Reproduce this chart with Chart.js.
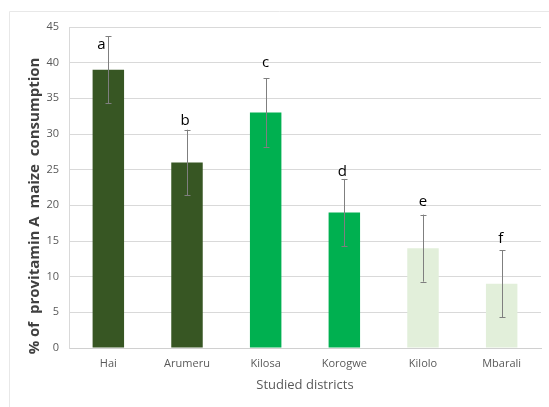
<!DOCTYPE html>
<html>
<head>
<meta charset="utf-8">
<script src="https://cdn.jsdelivr.net/npm/chart.js@4/dist/chart.umd.min.js"></script>
<style>
  html, body { margin: 0; padding: 0; background: #fff; }
  #wrap { width: 549px; height: 407px; position: relative; }
</style>
</head>
<body>
<div id="wrap"><canvas id="c" width="549" height="407"></canvas></div>
<script>
const categories = ["Hai", "Arumeru", "Kilosa", "Korogwe", "Kilolo", "Mbarali"];
const values = [39, 26, 33, 19, 14, 9];
const errors = [4.7, 4.6, 4.8, 4.7, 4.7, 4.7];
const letters = ["a", "b", "c", "d", "e", "f"];
const letterValues = [42.5, 31.9, 40.0, 24.7, 20.5, 15.3];
const letterOffsets = [-7, -2, 0, -2, 0, -1];
const barColors = ["#375623", "#375623", "#00b050", "#00b050", "#e2efda", "#e2efda"];
const yTicks = [0, 5, 10, 15, 20, 25, 30, 35, 40, 45];
const yTitle = "% of  provitamin A  maize  consumption";
const xTitle = "Studied districts";

const extras = {
  id: "extras",
  beforeDraw(chart) {
    const ctx = chart.ctx;
    ctx.save();
    ctx.strokeStyle = "#e8e8e8";
    ctx.lineWidth = 1;
    ctx.beginPath();
    ctx.moveTo(9.5, 407);
    ctx.lineTo(9.5, 11.5);
    ctx.lineTo(549, 11.5);
    ctx.stroke();
    ctx.restore();
  },
  afterDatasetsDraw(chart) {
    const ctx = chart.ctx;
    const xs = chart.scales.x, ys = chart.scales.y;
    ctx.save();
    ctx.strokeStyle = "#7f7f7f";
    ctx.lineWidth = 1;
    values.forEach((v, i) => {
      const x = Math.round(xs.getPixelForValue(i)) + 0.5;
      const yt = ys.getPixelForValue(v + errors[i]);
      const yb = ys.getPixelForValue(v - errors[i]);
      ctx.beginPath();
      ctx.moveTo(x, yt); ctx.lineTo(x, yb);
      ctx.moveTo(x - 3, Math.round(yt) + 0.5); ctx.lineTo(x + 3, Math.round(yt) + 0.5);
      ctx.moveTo(x - 3, Math.round(yb) + 0.5); ctx.lineTo(x + 3, Math.round(yb) + 0.5);
      ctx.stroke();
    });
    ctx.fillStyle = "#000";
    ctx.font = "15px 'Open Sans'";
    ctx.textAlign = "center";
    ctx.textBaseline = "middle";
    letters.forEach((l, i) => {
      ctx.fillText(l, xs.getPixelForValue(i) + letterOffsets[i], ys.getPixelForValue(letterValues[i]));
    });
    ctx.fillStyle = "#595959";
    ctx.font = "13px 'Open Sans'";
    ctx.fillText(xTitle, (chart.chartArea.left + chart.chartArea.right) / 2, 385);
    ctx.save();
    ctx.translate(35, 206);
    ctx.rotate(-Math.PI / 2);
    ctx.fillStyle = "#404040";
    ctx.font = "bold 15px 'Open Sans'";
    ctx.fillText(yTitle, 0, 0);
    ctx.restore();
    ctx.restore();
  }
};

new Chart(document.getElementById("c"), {
  type: "bar",
  data: {
    labels: categories,
    datasets: [{
      data: values,
      backgroundColor: barColors,
      borderWidth: 0,
      barPercentage: 0.4,
      categoryPercentage: 1.0
    }]
  },
  options: {
    responsive: false,
    animation: false,
    devicePixelRatio: 1,
    layout: { padding: { left: 0, right: 8, top: 27, bottom: 0 } },
    plugins: { legend: { display: false }, tooltip: { enabled: false } },
    scales: {
      x: {
        grid: { display: false, drawTicks: false },
        border: { display: true, color: "#d0d0d0", width: 1 },
        ticks: { color: "#595959", font: { family: "Open Sans", size: 11 }, padding: 9, maxRotation: 0 },
        afterFit(s) { s.height = 59; }
      },
      y: {
        min: 0, max: 45,
        afterBuildTicks(s) { s.ticks = yTicks.map(v => ({ value: v })); },
        grid: { color: "#d9d9d9", drawTicks: false },
        border: { display: true, color: "#d9d9d9", width: 1 },
        ticks: { color: "#595959", font: { family: "Open Sans", size: 11 }, padding: 10 },
        afterFit(s) { s.width = 69; }
      }
    }
  },
  plugins: [extras]
});
</script>
</body>
</html>
